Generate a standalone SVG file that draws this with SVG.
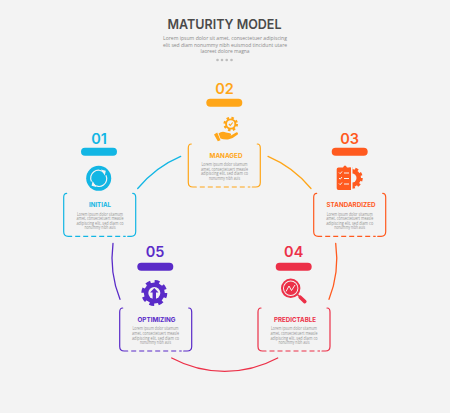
<svg xmlns="http://www.w3.org/2000/svg" xmlns:xlink="http://www.w3.org/1999/xlink" width="450" height="413" viewBox="0 0 450 413">
<style>
text{font-family:"Inter","Liberation Sans",sans-serif;text-anchor:middle}
.title{font-size:13.500px;font-weight:600;fill:#4a4a4a}
.sub{font-size:6px;fill:#8a8a8a;font-family:"Open Sans","Liberation Sans",sans-serif}
.num{font-size:14.500px;font-weight:600;fill:currentColor}
.name{font-size:6.600px;font-weight:700;fill:currentColor}
.body{font-size:4.500px;fill:#949494;font-family:"Open Sans","Liberation Sans",sans-serif}
.arc{fill:none;stroke-width:1.300;stroke-linecap:round}
.card{fill:none;stroke:currentColor;stroke-width:1.200;stroke-linecap:round}
.fillc{fill:currentColor}
.bg{fill:#f3f3f3}
.n1{color:#12b6e4}.n2{color:#ffa618}.n3{color:#ff5a1f}.n4{color:#ec3048}.n5{color:#5a2bc8}
</style>
<defs>
<g id="frame">
<path class="card" d="M3 0Q0 0 0 4V38.500Q0 43 4.500 43H8M69 0Q72 0 72 4V38.500Q72 43 67.500 43H64"/>
<path class="card" stroke-dasharray="5 3" style="stroke-linecap:butt" d="M11.500 43H62"/>
</g>
<g id="bar"><rect width="36" height="8" rx="4" class="fillc"/></g>
</defs>
<rect width="450" height="413" fill="#f3f3f3"/>
<g id="header">
<text class="title" x="224.500" y="28.500" textLength="114" lengthAdjust="spacingAndGlyphs">MATURITY MODEL</text>
<text class="sub" x="225" y="40" textLength="124" lengthAdjust="spacingAndGlyphs">Lorem ipsum dolor sit amet, consectetuer adipiscing</text>
<text class="sub" x="225" y="46.500" textLength="124" lengthAdjust="spacingAndGlyphs">elit sed diam nonummy nibh euismod tincidunt utare</text>
<text class="sub" x="225" y="53" textLength="49" lengthAdjust="spacingAndGlyphs">laoreet dolore magna</text>
<g fill="#bdbdbd"><circle cx="217.500" cy="60" r="1.300"/><circle cx="222" cy="60" r="1.300"/><circle cx="226.700" cy="60" r="1.300"/><circle cx="231.500" cy="60" r="1.300"/></g>
</g>
<g id="connectors">
<path class="arc" stroke="#12b6e4" d="M137.700 188.500A112 112 0 0 1 180.700 156.300"/>
<path class="arc" stroke="#ffa618" d="M268 156.300A112 112 0 0 1 311 188.500"/>
<path class="arc" stroke="#ff5a1f" d="M335.700 243.300A112 112 0 0 1 329 299.300"/>
<path class="arc" stroke="#ec3048" d="M277.700 358A112 112 0 0 1 171.700 358"/>
<path class="arc" stroke="#5a2bc8" d="M120 299.300A112 112 0 0 1 113 243.300"/>
</g>
<g id="node-01" class="n1">
<text class="num" x="99" y="143.500">01</text>
<use xlink:href="#bar" href="#bar" x="81" y="147.700"/>
<circle class="fillc" cx="98.700" cy="178.300" r="12.500"/>
<g fill="none" stroke="#f3f3f3" stroke-width="1.200">
<path d="M91.500 181.500A7.800 7.800 0 0 1 104 172.500"/><path d="M105.900 175.200A7.800 7.800 0 0 1 93.400 184.200"/></g>
<path fill="#f3f3f3" d="M101 169.500L105.800 170.800L104.800 175.500ZM96.400 187L91.600 185.800L92.600 181Z"/>
<use xlink:href="#frame" href="#frame" x="63.700" y="193.300"/>
<text class="name" x="100" y="207" textLength="22" lengthAdjust="spacingAndGlyphs">INITIAL</text>
<text class="body" x="100" y="215.500" textLength="46" lengthAdjust="spacingAndGlyphs">Lorem ipsum dolor sitamum</text>
<text class="body" x="100" y="220" textLength="47" lengthAdjust="spacingAndGlyphs">amet, consectetuert measle</text>
<text class="body" x="100" y="224.700" textLength="47" lengthAdjust="spacingAndGlyphs">adipiscing elit, sed diam co</text>
<text class="body" x="100" y="229.300" textLength="31" lengthAdjust="spacingAndGlyphs">nonummy nibh auis</text>
</g>
<g id="node-02" class="n2">
<text class="num" x="224.500" y="93.500">02</text>
<use xlink:href="#bar" href="#bar" x="206.300" y="98.700"/>
<circle cx="230.700" cy="124" r="5.800" fill="none" stroke="currentColor" stroke-width="3" stroke-dasharray="2.300 2.250"/>
<circle class="fillc" cx="230.700" cy="124" r="5.600"/>
<circle class="bg" cx="230.700" cy="124" r="3.700"/>
<path fill="none" stroke="currentColor" stroke-width="1.100" d="M228.900 124L230.300 125.500L232.700 122.500"/>
<path class="fillc" d="M214 134.500L217.200 132.600L220.500 140.200L217.800 141.200ZM218.500 133.500Q222 130.500 226 132.500L230 133.200Q232 134 230.500 135.500L226.500 135.800L231 135.500L236.500 132.300Q238.500 132.500 238 134.200Q233 138.600 228 139.500Q223.500 139.800 220.500 138.500Z"/>
<use xlink:href="#frame" href="#frame" x="188.300" y="144"/>
<text class="name" x="226" y="157.700" textLength="33" lengthAdjust="spacingAndGlyphs">MANAGED</text>
<text class="body" x="224.500" y="165.800" textLength="46" lengthAdjust="spacingAndGlyphs">Lorem ipsum dolor sitamum</text>
<text class="body" x="224.500" y="170.500" textLength="47" lengthAdjust="spacingAndGlyphs">amet, consectetuert measle</text>
<text class="body" x="224.500" y="175.200" textLength="47" lengthAdjust="spacingAndGlyphs">adipiscing elit, sed diam co</text>
<text class="body" x="224.500" y="179.800" textLength="31" lengthAdjust="spacingAndGlyphs">nonummy nibh auis</text>
</g>
<g id="node-03" class="n3">
<text class="num" x="349.700" y="143.500">03</text>
<use xlink:href="#bar" href="#bar" x="331.700" y="147.700"/>
<circle cx="352" cy="178" r="9" fill="none" stroke="currentColor" stroke-width="3.500" stroke-dasharray="3 2.650"/>
<circle class="fillc" cx="352" cy="178" r="9"/>
<circle class="bg" cx="352" cy="178" r="4.500"/>
<path class="bg" stroke="#f3f3f3" d="M351 164h1v26h-1z"/>
<path class="fillc" d="M338.500 167.500H343Q345 163.500 347 167.500H351V190H338.500Q336.700 190 336.700 188.300V169.300Q336.700 167.500 338.500 167.500Z"/>
<g fill="none" stroke="#f3f3f3" stroke-width="1"><path d="M339 172.500L340.200 173.700L342 171.500M339 178L340.200 179.200L342 177M339 183.500L340.200 184.700L342 182.500M344 173H349M344 178.500H349M344 184H349"/></g>
<use xlink:href="#frame" href="#frame" x="313.700" y="193.300"/>
<text class="name" x="351" y="207" textLength="49" lengthAdjust="spacingAndGlyphs">STANDARDIZED</text>
<text class="body" x="349.700" y="215.500" textLength="46" lengthAdjust="spacingAndGlyphs">Lorem ipsum dolor sitamum</text>
<text class="body" x="349.700" y="220" textLength="47" lengthAdjust="spacingAndGlyphs">amet, consectetuert measle</text>
<text class="body" x="349.700" y="224.700" textLength="47" lengthAdjust="spacingAndGlyphs">adipiscing elit, sed diam co</text>
<text class="body" x="349.700" y="229.300" textLength="31" lengthAdjust="spacingAndGlyphs">nonummy nibh auis</text>
</g>
<g id="node-04" class="n4">
<text class="num" x="293.700" y="257.300">04</text>
<use xlink:href="#bar" href="#bar" x="275.700" y="262.700"/>
<circle cx="290.700" cy="288.300" r="8.700" fill="none" stroke="currentColor" stroke-width="2"/>
<circle class="fillc" cx="290.700" cy="288.300" r="6.700"/>
<path fill="none" stroke="#f3f3f3" stroke-width="1" d="M286 291.500L289 286L291.500 290.500L295 285"/>
<path fill="none" stroke="currentColor" stroke-width="1.400" d="M297.500 294.500L300 297"/>
<path fill="none" stroke="currentColor" stroke-width="3.600" stroke-linecap="round" d="M300.200 297.200L304.800 301.600"/>
<use xlink:href="#frame" href="#frame" x="258" y="308"/>
<text class="name" x="295" y="322" textLength="42" lengthAdjust="spacingAndGlyphs">PREDICTABLE</text>
<text class="body" x="294" y="330.300" textLength="46" lengthAdjust="spacingAndGlyphs">Lorem ipsum dolor sitamum</text>
<text class="body" x="294" y="335" textLength="47" lengthAdjust="spacingAndGlyphs">amet, consectetuert measle</text>
<text class="body" x="294" y="339.700" textLength="47" lengthAdjust="spacingAndGlyphs">adipiscing elit, sed diam co</text>
<text class="body" x="294" y="344.300" textLength="31" lengthAdjust="spacingAndGlyphs">nonummy nibh auis</text>
</g>
<g id="node-05" class="n5">
<text class="num" x="155" y="257.300">05</text>
<use xlink:href="#bar" href="#bar" x="137.300" y="262.700"/>
<circle cx="154.300" cy="293" r="11" fill="none" stroke="currentColor" stroke-width="4" stroke-dasharray="4.640 4"/>
<circle class="fillc" cx="154.300" cy="293" r="10.500"/>
<circle class="bg" cx="154.300" cy="293" r="6"/>
<path class="fillc" d="M154.300 288L158.500 292.500H156V299H152.600V292.500H150.100Z"/>
<use xlink:href="#frame" href="#frame" x="119.700" y="308"/>
<text class="name" x="156.500" y="322" textLength="38" lengthAdjust="spacingAndGlyphs">OPTIMIZING</text>
<text class="body" x="155.500" y="330.300" textLength="46" lengthAdjust="spacingAndGlyphs">Lorem ipsum dolor sitamum</text>
<text class="body" x="155.500" y="335" textLength="47" lengthAdjust="spacingAndGlyphs">amet, consectetuert measle</text>
<text class="body" x="155.500" y="339.700" textLength="47" lengthAdjust="spacingAndGlyphs">adipiscing elit, sed diam co</text>
<text class="body" x="155.500" y="344.300" textLength="31" lengthAdjust="spacingAndGlyphs">nonummy nibh auis</text>
</g>
</svg>
